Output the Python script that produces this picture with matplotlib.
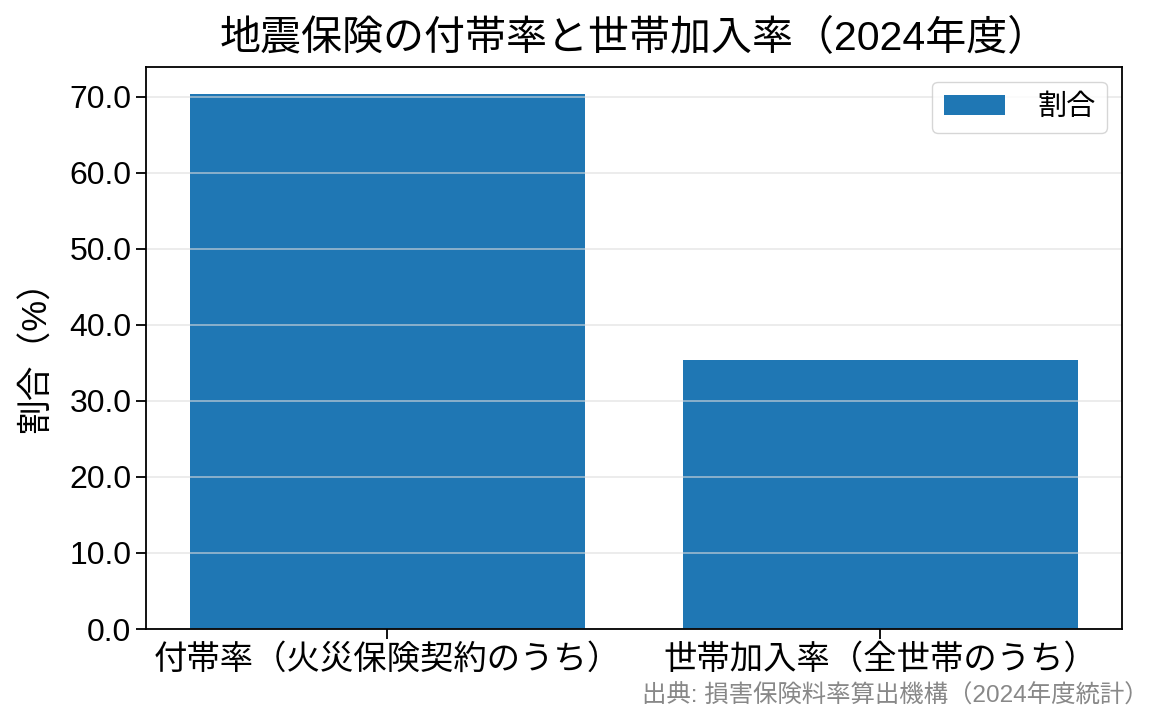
import matplotlib
matplotlib.use("Agg")
from matplotlib import pyplot as plt

plt.rcParams['font.family'] = ['Liberation Sans', 'Noto Sans CJK JP', 'DejaVu Sans']

# data
categories = ["付帯率（火災保険契約のうち）", "世帯加入率（全世帯のうち）"]
values = [70.4, 35.4]
series_name = "割合"

fig, ax = plt.subplots(figsize=(11.65, 7.25), dpi=100)
fig.subplots_adjust(left=0.1253, right=0.963, top=0.9076, bottom=0.1324)

ax.bar(categories, values, width=0.8, color="#1f77b4", label=series_name)

ax.set_title("地震保険の付帯率と世帯加入率（2024年度）", fontsize=29.5, pad=12)
ax.set_ylabel("割合（%）", fontsize=25, labelpad=12)
ax.tick_params(axis="x", labelsize=24, length=7, width=1.3)
ax.tick_params(axis="y", labelsize=23, length=7, width=1.3)
ax.yaxis.set_major_formatter(matplotlib.ticker.FormatStrFormatter("%.1f"))
ax.grid(True, axis="y", color="#dddddd", alpha=0.6, linewidth=1.3)
for s in ax.spines.values():
    s.set_linewidth(1.3)

ax.legend(loc="upper right", fontsize=21, handletextpad=1.1, handlelength=2.1)

fig.text(0.986, 0.04, "出典: 損害保険料率算出機構（2024年度統計）",
         ha="right", va="center", fontsize=17.6, color="#888888")

fig.savefig("out.png", dpi=100)
